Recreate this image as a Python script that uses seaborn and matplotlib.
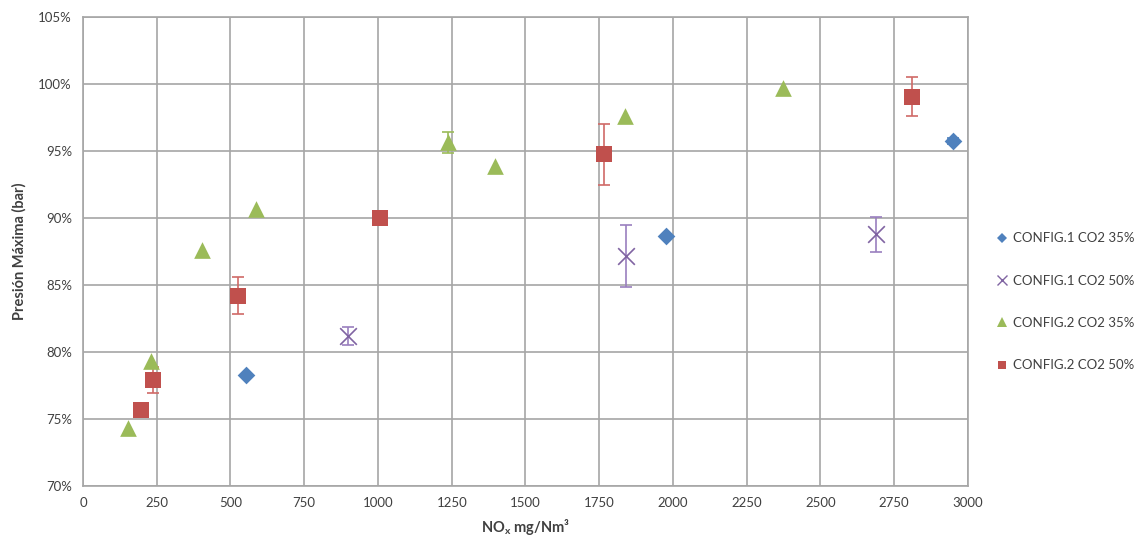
import matplotlib
matplotlib.use("Agg")
import matplotlib.pyplot as plt
from matplotlib.ticker import FuncFormatter
from matplotlib.lines import Line2D
import seaborn as sns
import pandas as pd

# NOx emissions (mg/Nm3) and peak pressure (% of reference) per configuration
c1_35_x = [553, 1978, 2950]
c1_35_y = [78.3, 88.65, 95.75]
c1_35_err = [0.0, 0.0, 0.25]

c1_50_x = [898, 1842, 2687]
c1_50_y = [81.2, 87.15, 88.8]
c1_50_err = [0.67, 2.3, 1.3]

c2_35_x = [152, 231, 404, 585, 1236, 1396, 1837, 2372]
c2_35_y = [74.3, 79.3, 87.6, 90.7, 95.65, 93.9, 97.65, 99.7]
c2_35_err = [0.0, 0.0, 0.0, 0.0, 0.8, 0.0, 0.0, 0.0]

c2_50_x = [198, 238, 525, 1006, 1766, 2809]
c2_50_y = [75.7, 77.9, 84.2, 90.0, 94.75, 99.05]
c2_50_err = [0.0, 0.95, 1.4, 0.0, 2.3, 1.45]

series_names = ["CONFIG.1 CO2 35%", "CONFIG.1 CO2 50%", "CONFIG.2 CO2 35%", "CONFIG.2 CO2 50%"]
x_ticks = list(range(0, 3001, 250))
y_ticks = list(range(70, 106, 5))

sns.set_theme(style="white")
plt.rcParams["font.family"] = ["Lato", "DejaVu Sans"]

fig = plt.figure(figsize=(11.4, 5.44), dpi=100)
ax = fig.add_axes([0.0728, 0.1066, 0.7763, 0.8621])

styles = [
    dict(marker="D", color="#4F81BD", size=9, ecolor="#4F81BD"),
    dict(marker="x", color="#8064A2", size=12, ecolor="#9A7FBF"),
    dict(marker="^", color="#9BBB59", size=12, ecolor="#9BBB59"),
    dict(marker="s", color="#C0504D", size=11, ecolor="#D06A67"),
]
data = [
    (c1_35_x, c1_35_y, c1_35_err),
    (c1_50_x, c1_50_y, c1_50_err),
    (c2_35_x, c2_35_y, c2_35_err),
    (c2_50_x, c2_50_y, c2_50_err),
]

handles = []
for name, (xs, ys, errs), st in zip(series_names, data, styles):
    df = pd.DataFrame({"nox": xs, "p": ys, "err": errs})
    eb = df[df["err"] > 0]
    ax.errorbar(eb["nox"], eb["p"], yerr=eb["err"], fmt="none",
                ecolor=st["ecolor"], elinewidth=1.2, capsize=4, capthick=1.2, zorder=3)
    if st["marker"] == "x":
        sns.scatterplot(data=df, x="nox", y="p", ax=ax, marker="x", color=st["color"],
                        s=st["size"] ** 2, linewidth=1.2, zorder=4, legend=False)
    else:
        sns.scatterplot(data=df, x="nox", y="p", ax=ax, marker=st["marker"], color=st["color"],
                        s=st["size"] ** 2, linewidth=0, zorder=4, legend=False)
    handles.append(Line2D([], [], linestyle="none", marker=st["marker"],
                          markersize=st["size"] * 0.55, color=st["color"],
                          markeredgewidth=1.0 if st["marker"] == "x" else 0,
                          label=name))

ax.set_xlim(0, 3000)
ax.set_ylim(70, 105)
ax.set_xticks(x_ticks)
ax.set_yticks(y_ticks)
ax.yaxis.set_major_formatter(FuncFormatter(lambda v, _: f"{v:.0f}%"))
ax.grid(True, color="#A6A6A6", linewidth=1.2)
ax.set_axisbelow(True)
for sp in ax.spines.values():
    sp.set_color("#A6A6A6")
    sp.set_linewidth(1.2)
ax.tick_params(axis="both", length=0, labelsize=9.5, colors="#404040", pad=8)

ax.set_xlabel("NO$_\\mathregular{x}$ mg/Nm³", fontsize=10.5, fontweight="bold", color="#404040", labelpad=6)
ax.set_ylabel("Presión Máxima (bar)", fontsize=10.5, fontweight="bold", color="#404040", labelpad=8)

fig.legend(handles=handles, loc="upper left", bbox_to_anchor=(0.864, 0.595),
           frameon=False, fontsize=9.5, labelspacing=2.3, handlelength=0.8,
           handletextpad=0.4, labelcolor="#404040")

fig.savefig("out.png", dpi=100)
